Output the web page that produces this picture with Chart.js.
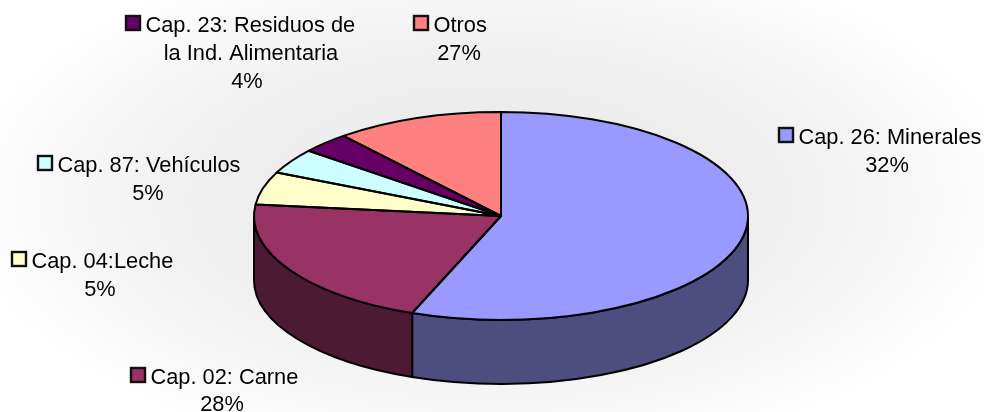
<!DOCTYPE html>
<html>
<head>
<meta charset="utf-8">
<title>Exportaciones por capítulo</title>
<script src="https://cdn.jsdelivr.net/npm/chart.js@4"></script>
<style>
  html, body { margin: 0; padding: 0; background: #fff; }
  #wrap {
    width: 984px;
    height: 412px;
    background: radial-gradient(ellipse 540px 270px at 490px 200px, #e9e9e9 0%, #eeeeee 45%, #f6f6f6 75%, #ffffff 100%);
  }
  canvas { display: block; }
</style>
</head>
<body>
<div id="wrap"><canvas id="myChart" width="984" height="412"></canvas></div>
<script>
// etiquetas de cada porcion
const categories = [
  "Cap. 26: Minerales",
  "Cap. 02: Carne",
  "Cap. 04:Leche",
  "Cap. 87: Vehículos",
  "Cap. 23: Residuos de la Ind. Alimentaria",
  "Otros"
];
// tamano de las porciones (en %)
const sliceValues = [55.8, 20.9, 5.1, 3.9, 3.2, 11.0];
// porcentajes impresos en las etiquetas
const printedPercents = ["32%", "28%", "5%", "5%", "4%", "27%"];
const topColors = ["#9999FF", "#993366", "#FFFFCC", "#CCFFFF", "#660066", "#FF8080"];
const sideColors = ["#4D4D80", "#4D1A33", "#80806A", "#6A8080", "#330033", "#804040"];

const squash = 104 / 247;
const depth = 64;

// caja de cada etiqueta: marker = esquina del cuadrado, lines = [texto, x, baseline, align]
const labelBoxes = [
  { marker: [779, 128], lines: [[categories[0], 798.5, 143.5, "left"], [printedPercents[0], 887, 171.5, "center"]] },
  { marker: [131, 368], lines: [[categories[1], 150.5, 383.5, "left"], [printedPercents[1], 222, 410.5, "center"]] },
  { marker: [12, 252], lines: [[categories[2], 31.5, 267.5, "left"], [printedPercents[2], 100, 295.5, "center"]] },
  { marker: [38, 156], lines: [[categories[3], 57.5, 171.5, "left"], [printedPercents[3], 148, 199.5, "center"]] },
  { marker: [126, 16], lines: [["Cap. 23: Residuos de", 145.5, 31.5, "left"], ["la Ind. Alimentaria", 251, 59.5, "center"], [printedPercents[4], 247, 87.5, "center"]] },
  { marker: [414, 16], lines: [[categories[5], 433.5, 31.5, "left"], [printedPercents[5], 459, 59.5, "center"]] }
];

const pie3d = {
  id: "pie3d",
  beforeDatasetsDraw(chart) {
    const ctx = chart.ctx;
    const arcs = chart.getDatasetMeta(0).data;
    const cx = arcs[0].x, cy = arcs[0].y, rx = arcs[0].outerRadius, ry = rx * squash;

    // pared frontal
    ctx.save();
    ctx.lineWidth = 2;
    ctx.strokeStyle = "#000";
    arcs.forEach((arc, i) => {
      const lo = Math.max(arc.startAngle, 0);
      const hi = Math.min(arc.endAngle, Math.PI);
      if (hi <= lo) return;
      ctx.beginPath();
      ctx.ellipse(cx, cy, rx, ry, 0, lo, hi);
      ctx.ellipse(cx, cy + depth, rx, ry, 0, hi, lo, true);
      ctx.closePath();
      ctx.fillStyle = sideColors[i];
      ctx.fill();
      ctx.stroke();
    });
    ctx.restore();

    // la cara de arriba se aplasta en elipse
    ctx.save();
    ctx.translate(cx, cy);
    ctx.scale(1, squash);
    ctx.translate(-cx, -cy);
  },
  afterDatasetsDraw(chart) {
    const ctx = chart.ctx;
    ctx.restore();

    const arcs = chart.getDatasetMeta(0).data;
    const cx = arcs[0].x, cy = arcs[0].y, rx = arcs[0].outerRadius, ry = rx * squash;
    ctx.save();
    ctx.lineWidth = 2;
    ctx.strokeStyle = "#000";
    ctx.lineJoin = "round";
    arcs.forEach((arc) => {
      ctx.beginPath();
      ctx.moveTo(cx, cy);
      ctx.ellipse(cx, cy, rx, ry, 0, arc.startAngle, arc.endAngle);
      ctx.closePath();
      ctx.stroke();
    });
    ctx.restore();

    // etiquetas
    ctx.save();
    ctx.font = "21.8px 'Liberation Sans', Arial, sans-serif";
    ctx.fillStyle = "#000";
    ctx.textBaseline = "alphabetic";
    labelBoxes.forEach((box, i) => {
      ctx.fillStyle = topColors[i];
      ctx.fillRect(box.marker[0], box.marker[1], 14, 14);
      ctx.lineWidth = 2.4;
      ctx.strokeStyle = "#111";
      ctx.strokeRect(box.marker[0], box.marker[1], 14, 14);
      ctx.fillStyle = "#000";
      box.lines.forEach((l) => {
        ctx.textAlign = l[3];
        ctx.fillText(l[0], l[1], l[2]);
      });
    });
    ctx.restore();
  }
};

new Chart(document.getElementById("myChart"), {
  type: "pie",
  data: {
    labels: categories,
    datasets: [{
      data: sliceValues,
      backgroundColor: topColors,
      borderWidth: 0,
      radius: 247,
      clip: false
    }]
  },
  options: {
    responsive: false,
    animation: false,
    layout: { padding: { left: 18, top: 20 } },
    plugins: { legend: { display: false }, tooltip: { enabled: false } }
  },
  plugins: [pie3d]
});
</script>
</body>
</html>
